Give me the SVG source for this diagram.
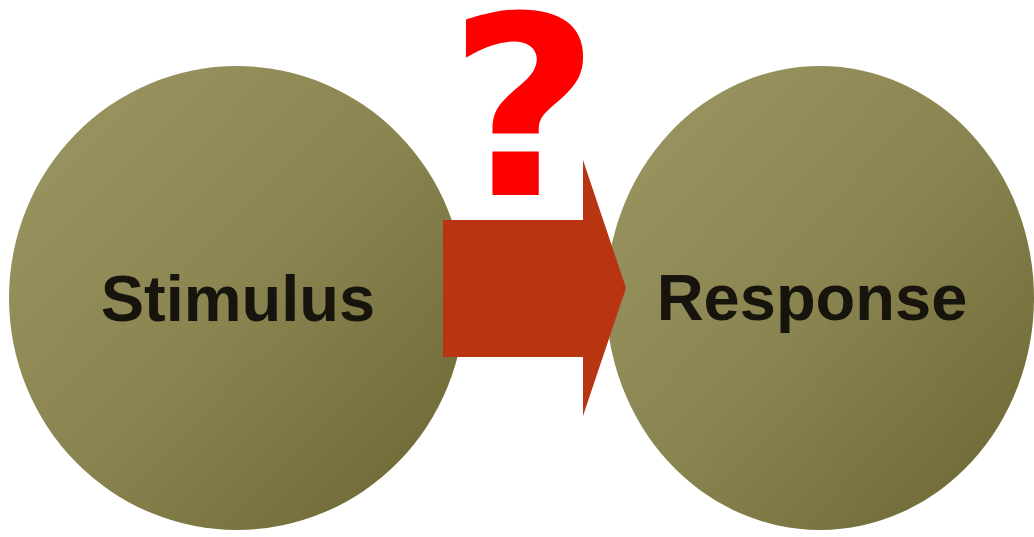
<svg xmlns="http://www.w3.org/2000/svg" width="1034" height="537" viewBox="0 0 1034 537">
<style>
.lbl{font-family:"Liberation Sans",Arial,sans-serif;font-weight:bold;font-size:65px;fill:#16140c;text-anchor:middle}
.q{font-family:"DejaVu Sans",sans-serif;font-weight:bold;font-size:250px;fill:#ff0000;text-anchor:middle}
</style>
<defs>
<linearGradient id="ball" x1="0" y1="0" x2="1" y2="1">
<stop offset="0" stop-color="#9d9763"/>
<stop offset="0.5" stop-color="#8a8450"/>
<stop offset="1" stop-color="#6a6430"/>
</linearGradient>
</defs>
<rect width="1034" height="537" fill="#ffffff"/>
<g id="stimulus">
<ellipse cx="237" cy="298" rx="228" ry="232" fill="url(#ball)"/>
<text class="lbl" x="238" y="321">Stimulus</text>
</g>
<g id="response">
<ellipse cx="820" cy="298" rx="214" ry="232" fill="url(#ball)"/>
<text class="lbl" x="812" y="320">Response</text>
</g>
<g id="connectors">
<polygon points="443,220 583,220 583,160 626,288 583,416 583,357 443,357" fill="#b93512"/>
</g>
<g id="question">
<text class="q" transform="translate(524,195) scale(1.05,1)" x="0" y="0">?</text>
</g>
</svg>
